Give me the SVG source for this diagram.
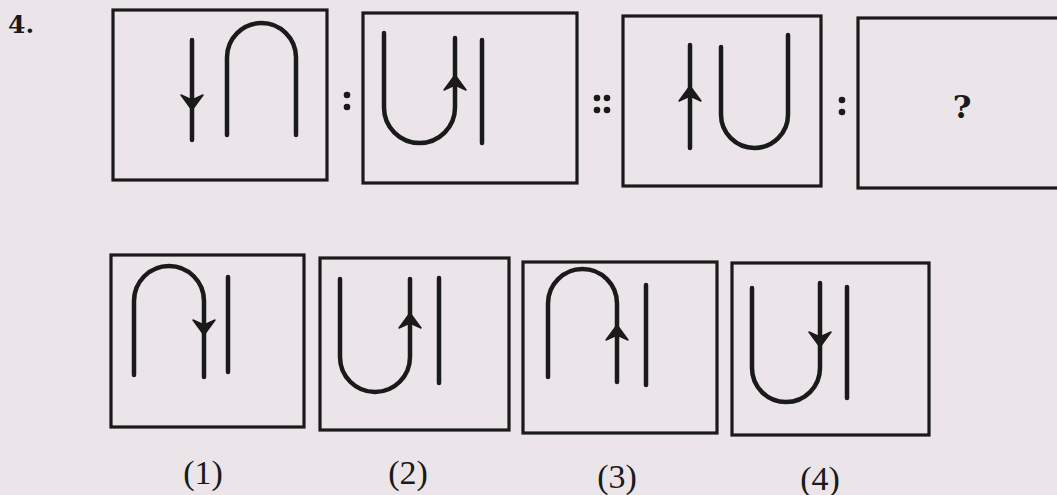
<svg xmlns="http://www.w3.org/2000/svg" width="1057" height="495" viewBox="0 0 1057 495">
<style>
.bg{fill:#ebe5e9}
.box{fill:none;stroke:#1a1a1a;stroke-width:3.2}
.fig{fill:none;stroke:#1a1a1a;stroke-width:4.5;stroke-linecap:round}
.ah{fill:#1a1a1a;stroke:#1a1a1a;stroke-width:1.5;stroke-linejoin:round}
.dot{fill:#1a1a1a}
.lbl{font-family:"Liberation Serif",serif;font-size:34px;fill:#1a1a1a;text-anchor:middle}
.bold{font-family:"DejaVu Serif","Liberation Serif",serif;font-weight:bold;fill:#1a1a1a}
</style>
<defs>
<path id="ah" d="M0,0 L-11,15 L0,10 L11,15 Z"/>
</defs>
<rect class="bg" x="0" y="0" width="1057" height="495"/>
<text class="bold" x="8" y="33" font-size="25">4.</text>

<g id="q1">
<rect class="box" x="113" y="10" width="214" height="170"/>
<line class="fig" x1="192" y1="40" x2="192" y2="140"/>
<use href="#ah" class="ah" transform="translate(192,110) rotate(180)"/>
<path class="fig" d="M227,135 V57.5 A34.5,34.5 0 0 1 296,57.5 V135"/>
</g>
<g id="sep1">
<circle class="dot" cx="347" cy="95" r="3.3"/><circle class="dot" cx="347" cy="107" r="3.3"/>
</g>
<g id="q2">
<rect class="box" x="363" y="13" width="214" height="170"/>
<path class="fig" d="M384,33 V107.5 A35.5,35.5 0 0 0 455,107.5 V38"/>
<use href="#ah" class="ah" transform="translate(455,75)"/>
<line class="fig" x1="482" y1="40" x2="482" y2="143"/>
</g>
<g id="sep2">
<circle class="dot" cx="597" cy="98" r="3.3"/><circle class="dot" cx="607" cy="98" r="3.3"/>
<circle class="dot" cx="597" cy="110" r="3.3"/><circle class="dot" cx="607" cy="110" r="3.3"/>
</g>
<g id="q3">
<rect class="box" x="623" y="16" width="198" height="170"/>
<line class="fig" x1="690" y1="45" x2="690" y2="148"/>
<use href="#ah" class="ah" transform="translate(690,86)"/>
<path class="fig" d="M721,47 V114.5 A33.5,33.5 0 0 0 788,114.5 V35"/>
</g>
<g id="sep3">
<circle class="dot" cx="842" cy="100" r="3.3"/><circle class="dot" cx="842" cy="112" r="3.3"/>
</g>
<g id="q4">
<rect class="box" x="858" y="18" width="210" height="170"/>
<text class="bold" x="962" y="118" font-size="32" text-anchor="middle">?</text>
</g>

<g id="opt1">
<rect class="box" x="111" y="255" width="193" height="172"/>
<path class="fig" d="M134,375 V301 A35,35 0 0 1 204,301 V377"/>
<use href="#ah" class="ah" transform="translate(204,335) rotate(180)"/>
<line class="fig" x1="228" y1="277" x2="228" y2="372"/>
<text class="lbl" x="203" y="484">(1)</text>
</g>
<g id="opt2">
<rect class="box" x="320" y="258" width="189" height="172"/>
<path class="fig" d="M340,279 V357 A35,35 0 0 0 410,357 V279"/>
<use href="#ah" class="ah" transform="translate(410,313)"/>
<line class="fig" x1="439" y1="278" x2="439" y2="383"/>
<text class="lbl" x="408" y="484">(2)</text>
</g>
<g id="opt3">
<rect class="box" x="523" y="262" width="194" height="171"/>
<path class="fig" d="M548,377 V303.5 A34.5,34.5 0 0 1 617,303.5 V382"/>
<use href="#ah" class="ah" transform="translate(617,325)"/>
<line class="fig" x1="646" y1="285" x2="646" y2="385"/>
<text class="lbl" x="617" y="488">(3)</text>
</g>
<g id="opt4">
<rect class="box" x="732" y="263" width="197" height="172"/>
<path class="fig" d="M752,288 V368 A34,34 0 0 0 820,368 V283"/>
<use href="#ah" class="ah" transform="translate(820,347) rotate(180)"/>
<line class="fig" x1="847" y1="287" x2="847" y2="398"/>
<text class="lbl" x="820" y="490">(4)</text>
</g>
</svg>
